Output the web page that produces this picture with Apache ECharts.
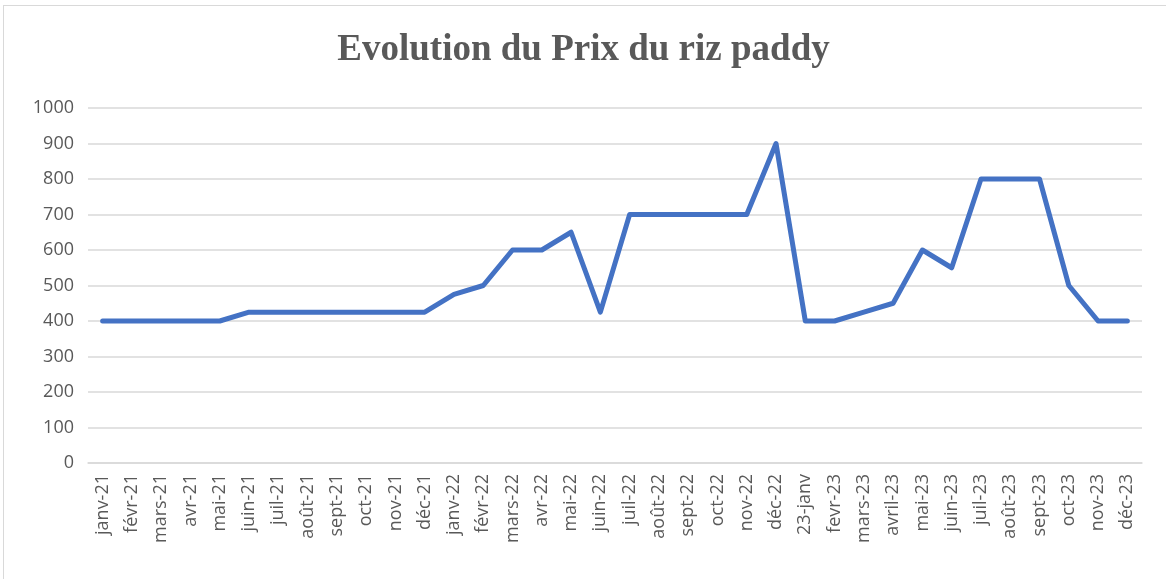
<!DOCTYPE html>
<html>
<head>
<meta charset="UTF-8">
<title>Evolution du Prix du riz paddy</title>
<script src="https://cdn.jsdelivr.net/npm/echarts@6/dist/echarts.min.js"></script>
</head>
<body style="margin: 0; background: #fff;">
<div id="frame" style="position: absolute; left: 3px; top: 5px; width: 1162px; height: 580px; border-left: 1px solid #d9d9d9; border-top: 1px solid #d9d9d9;"></div>
<div id="container" style="position: absolute; left: 0; top: 0; width: 1167px; height: 579px;"></div>
<script type="text/javascript">
var mois = ['janv-21', 'févr-21', 'mars-21', 'avr-21', 'mai-21', 'juin-21', 'juil-21', 'août-21', 'sept-21', 'oct-21', 'nov-21', 'déc-21',
    'janv-22', 'févr-22', 'mars-22', 'avr-22', 'mai-22', 'juin-22', 'juil-22', 'août-22', 'sept-22', 'oct-22', 'nov-22', 'déc-22',
    '23-janv', 'fevr-23', 'mars-23', 'avril-23', 'mai-23', 'juin-23', 'juil-23', 'août-23', 'sept-23', 'oct-23', 'nov-23', 'déc-23'];
var prix = [400, 400, 400, 400, 400, 425, 425, 425, 425, 425, 425, 425,
    475, 500, 600, 600, 650, 425, 700, 700, 700, 700, 700, 900,
    400, 400, 425, 450, 600, 550, 800, 800, 800, 500, 400, 400];

var myChart = echarts.init(document.getElementById('container'));
var option = {
    animation: false,
    title: {
        text: 'Evolution du Prix du riz paddy',
        left: 'center',
        top: 27,
        textStyle: {
            fontFamily: '"Liberation Serif", "DejaVu Serif", serif',
            fontSize: 37,
            fontWeight: 'bold',
            color: '#595959'
        }
    },
    grid: {
        left: 88,
        right: 25,
        top: 108,
        bottom: 116
    },
    xAxis: {
        type: 'category',
        data: mois,
        boundaryGap: true,
        axisLine: {lineStyle: {color: '#d9d9d9', width: 1.5}},
        axisTick: {show: false},
        axisLabel: {
            rotate: 90,
            interval: 0,
            margin: 11,
            fontSize: 18,
            color: '#595959',
            fontFamily: '"Open Sans", "Noto Sans", sans-serif'
        }
    },
    yAxis: {
        type: 'value',
        min: 0,
        max: 1000,
        interval: 100,
        axisLine: {show: false},
        axisTick: {show: false},
        splitLine: {lineStyle: {color: '#d9d9d9', width: 1.5}},
        axisLabel: {
            margin: 14,
            fontSize: 18,
            color: '#595959',
            fontFamily: '"Open Sans", "Noto Sans", sans-serif',
            formatter: function (v) { return String(v); }
        }
    },
    series: [{
        type: 'line',
        data: prix,
        symbol: 'none',
        lineStyle: {color: '#4472c4', width: 5, join: 'round', cap: 'round'}
    }]
};
myChart.setOption(option, true);
</script>
</body>
</html>
